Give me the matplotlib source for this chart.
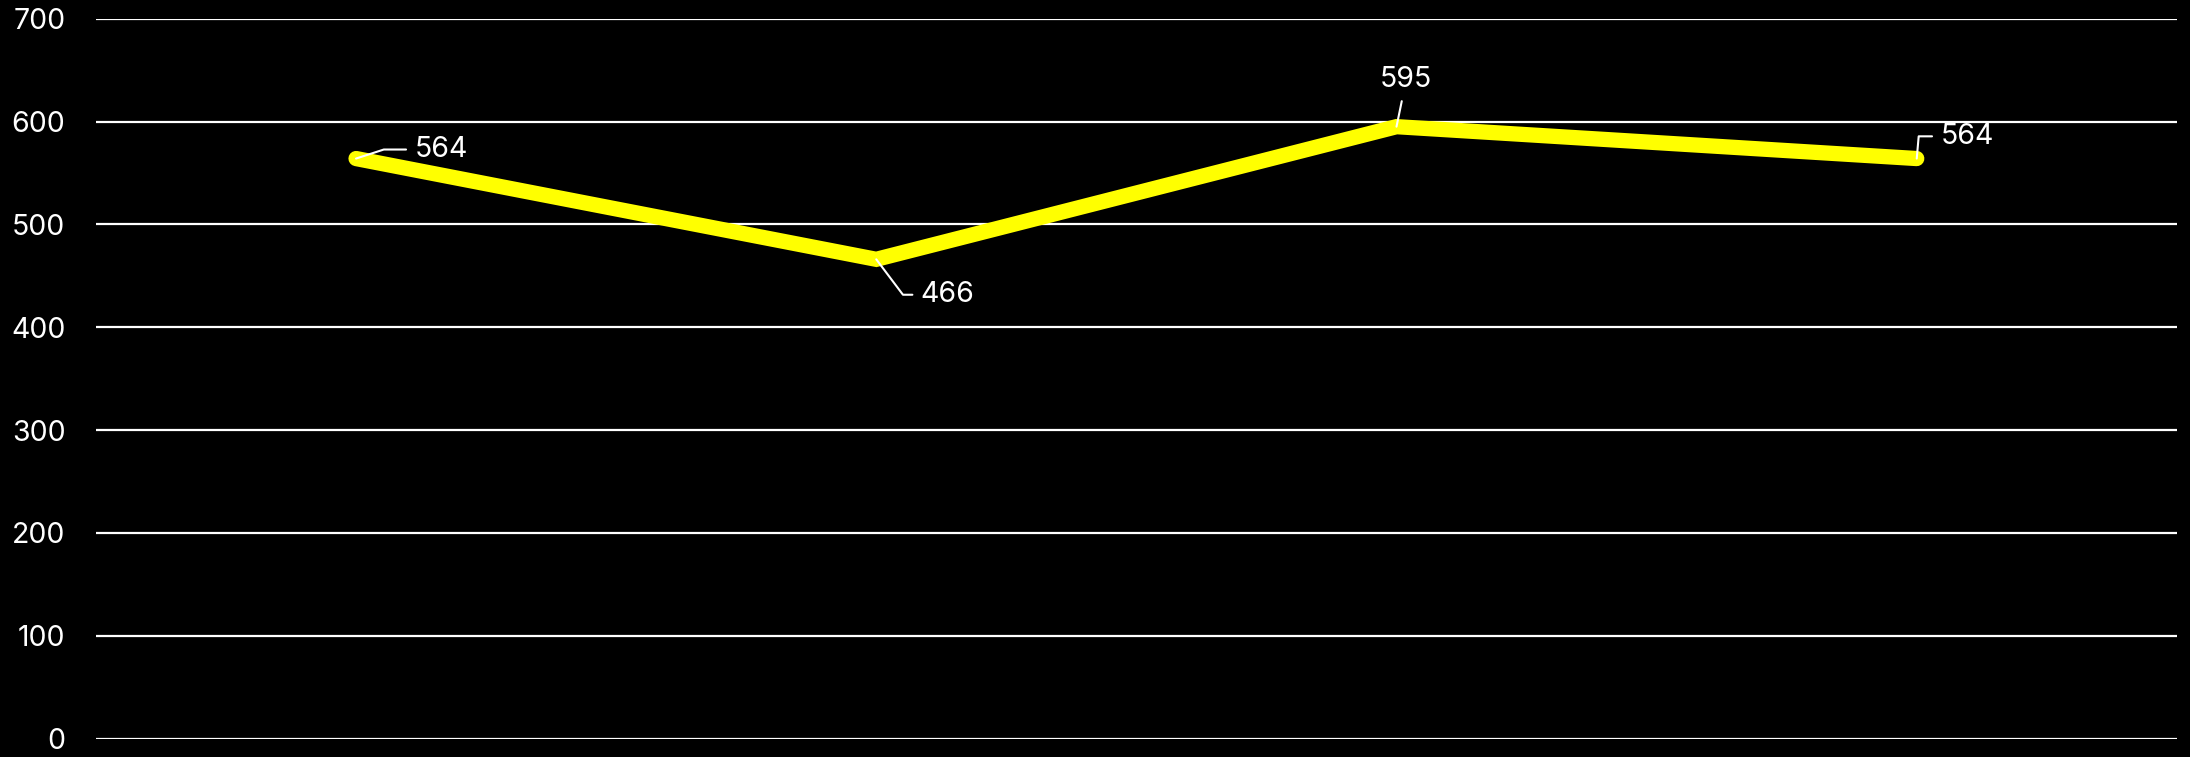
import matplotlib
matplotlib.use("Agg")
import matplotlib.pyplot as plt

plt.rcParams['font.family'] = ['Inter', 'DejaVu Sans']

categories = ["A", "B", "C", "D"]
values = [564, 466, 595, 564]
y_ticks = [0, 100, 200, 300, 400, 500, 600, 700]

# label offsets (points) and leader angles
label_offsets = [(42, 6.5), (32, -25.5), (7, 34), (17, 16)]
label_ha = ['left', 'left', 'center', 'left']
label_conn = ["angle,angleA=0,angleB=18,rad=0",
              "angle,angleA=0,angleB=-53,rad=0",
              "arc3,rad=0",
              "angle,angleA=0,angleB=85,rad=0"]

fig = plt.figure(figsize=(21.9, 7.57), dpi=100, facecolor='black')
ax = fig.add_axes([0.0438, 0.0244, 0.9502, 0.9509])
ax.set_facecolor('black')

x = list(range(len(categories)))
ax.plot(x, values, color='#ffff00', lw=11, solid_capstyle='round',
        solid_joinstyle='miter', zorder=3)

for i, v in enumerate(values):
    ax.annotate(str(v), xy=(x[i], v), xytext=label_offsets[i],
                textcoords='offset points', ha=label_ha[i], va='center',
                color='white', fontsize=20.5, zorder=5,
                arrowprops=dict(arrowstyle='-', color='white', lw=1.5,
                                connectionstyle=label_conn[i],
                                shrinkA=4, shrinkB=0))

ax.set_xlim(-0.5, len(categories) - 0.5)
ax.set_ylim(0, 700)
ax.set_yticks(y_ticks)
ax.set_yticklabels([str(t) for t in y_ticks])
ax.set_xticks([])
ax.tick_params(axis='y', length=0, pad=22, labelcolor='white', labelsize=20.5)
ax.grid(axis='y', color='white', lw=1.6, zorder=1)
ax.set_axisbelow(True)
for s in ax.spines.values():
    s.set_visible(False)

fig.savefig('out.png', dpi=100, facecolor='black')
